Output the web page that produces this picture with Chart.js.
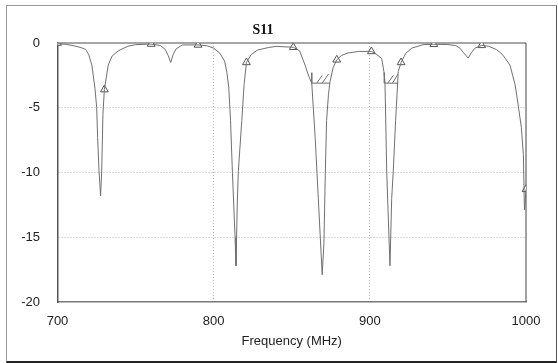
<!DOCTYPE html>
<html lang="en">
<head>
    <meta charset="UTF-8">
    <title>S11</title>
    <script src="https://cdn.jsdelivr.net/npm/chart.js"></script>
    <style>
        html, body { margin: 0; padding: 0; background: #fff; }
        #wrap { position: relative; width: 558px; height: 363px; }
        #frame {
            position: absolute; left: 6px; top: 5px; width: 549px; height: 355px;
            border-top: 1px solid #999; border-left: 1px solid #999;
            border-right: 1px solid #555; border-bottom: 2px solid #222;
            pointer-events: none;
        }
    </style>
</head>
<body>
<div id="wrap">
    <canvas id="s11Chart" width="558" height="363"></canvas>
    <div id="frame"></div>
</div>
<script>
// measured S11 trace (MHz, dB)
const freq = [700, 705, 710, 715, 718, 720, 722, 724, 725.1, 725.7, 726.6, 727.6, 728.3, 729.1, 730, 732.5, 735, 739, 745, 750,
    760, 766, 769, 771, 772.5, 774, 776, 780, 790, 796, 800, 804, 807, 808.5, 809.7, 810.8, 812, 813.7, 814.3, 815.1, 815.8,
    818, 819.5, 821, 824, 828, 835, 840, 851, 855, 858.5, 861, 862.8, 865, 867, 869.5, 870.6, 871.5, 872.3, 873.5,
    874.5, 876.5, 878.8, 882, 886, 893, 901, 904, 907.6, 909, 909.7, 910.8, 912.9, 914, 915, 916.5, 918.2, 920,
    923, 926.8, 934, 941, 950, 955, 957.7, 960, 963, 965, 967.3, 971.6, 976, 981, 985, 989.7, 993, 995, 997,
    998.3, 999, 1000];
const s11 = [-0.05, -0.1, -0.2, -0.35, -0.5, -0.9, -1.7, -3.5, -5, -7.3, -9.9, -11.8, -9.9, -5.5, -3.6, -1.7, -1.0, -0.6, -0.25, -0.13,
    -0.08, -0.2, -0.5, -1.0, -1.5, -0.9, -0.45, -0.15, -0.15, -0.22, -0.4, -0.8, -1.4, -2.3, -3.5, -6, -10, -15, -17.2, -12.5, -9.9,
    -6, -3.2, -1.5, -0.9, -0.55, -0.35, -0.26, -0.33, -0.6, -1.7, -2.6, -3.1, -7.3, -12, -17.9, -15.5, -10, -6, -4,
    -3.0, -1.9, -1.3, -0.95, -0.77, -0.65, -0.65, -0.85, -1.2, -2.2, -3.0, -9.9, -17.2, -12, -9.9, -6, -2.2, -1.5,
    -0.8, -0.4, -0.13, -0.1, -0.12, -0.2, -0.4, -0.75, -1.16, -0.75, -0.4, -0.18, -0.25, -0.5, -0.9, -1.7, -3.2, -4.8, -6.5,
    -8.6, -12.9, -11.3];

// triangle markers on the trace
const markerFreq = [700, 730, 760, 790, 821, 851, 878.8, 901, 920, 941, 971.6, 1000];
const markerS11 = [0, -3.6, -0.08, -0.15, -1.5, -0.33, -1.3, -0.65, -1.5, -0.1, -0.18, -11.3];

// hatched -3 dB band marks: [x1, y1, x2, y2]
const maskSegs = [
    [862.8, -2.3, 862.8, -3.1], [862.8, -3.1, 874.5, -3.1], [866, -3.1, 869.5, -2.5], [869.5, -3.1, 873.5, -2.4],
    [909.3, -2.3, 909.3, -3.1], [909.3, -3.1, 918.2, -3.1], [911.5, -3.1, 915, -2.5], [914.5, -3.1, 918, -2.4]
];

const traceData = freq.map((f, i) => ({ x: f, y: s11[i] }));
const markerData = markerFreq.map((f, i) => ({ x: f, y: markerS11[i] }));
const maskData = [];
maskSegs.forEach(s => {
    maskData.push({ x: s[0], y: s[1] }, { x: s[2], y: s[3] }, { x: s[2], y: null });
});

const plotFrame = {
    id: 'plotFrame',
    beforeDatasetsDraw(chart) {
        const a = chart.chartArea, ctx = chart.ctx;
        ctx.save();
        ctx.lineWidth = 1.5;
        ctx.strokeStyle = '#888';
        ctx.beginPath();
        ctx.moveTo(a.left, a.top);
        ctx.lineTo(a.right, a.top);
        ctx.stroke();
        ctx.strokeStyle = '#444';
        ctx.lineWidth = 1;
        ctx.beginPath();
        ctx.moveTo(a.right, a.top);
        ctx.lineTo(a.right, a.bottom);
        ctx.stroke();
        ctx.restore();
    }
};

const tickFont = { family: 'Liberation Sans, Arial, sans-serif', size: 13 };

new Chart(document.getElementById('s11Chart'), {
    type: 'line',
    data: {
        datasets: [
            { data: traceData, borderColor: '#707070', borderWidth: 1, pointRadius: 0, tension: 0 },
            { data: maskData, borderColor: '#707070', borderWidth: 1, pointRadius: 0, spanGaps: false },
            {
                data: markerData, showLine: false, pointStyle: 'triangle', pointRadius: 4.5,
                backgroundColor: '#fff', borderColor: '#555', pointBorderWidth: 1
            }
        ]
    },
    options: {
        responsive: false,
        animation: false,
        layout: { padding: { left: 0, right: 32, top: 0, bottom: 0 } },
        plugins: {
            legend: { display: false },
            tooltip: { enabled: false },
            title: {
                display: true,
                text: 'S11',
                color: '#111',
                font: { family: 'Liberation Serif, Times New Roman, serif', size: 14, weight: 'bold' },
                padding: { top: 22, bottom: 4.2 }
            }
        },
        scales: {
            x: {
                type: 'linear', min: 700, max: 1000,
                ticks: { stepSize: 100, color: '#222', font: tickFont, padding: 12, maxRotation: 0, callback: v => String(v) },
                grid: {
                    drawTicks: false,
                    color: c => (c.tick && (c.tick.value === 700 || c.tick.value === 1000)) ? 'rgba(0,0,0,0)' : '#b5b5b5'
                },
                border: { color: '#777', width: 1.5, dash: [1, 2] },
                title: { display: true, text: 'Frequency (MHz)', color: '#222', font: tickFont, padding: { top: 0, bottom: 14 } },
                afterFit: s => { s.height = 61; }
            },
            y: {
                min: -20, max: 0,
                ticks: { stepSize: 5, color: '#222', font: tickFont, padding: 17.5 },
                grid: {
                    drawTicks: false,
                    color: c => (c.tick && (c.tick.value === 0 || c.tick.value === -20)) ? 'rgba(0,0,0,0)' : '#b5b5b5'
                },
                border: { color: '#555', width: 1.5, dash: [1, 2] },
                afterFit: s => { s.width = 57.5; }
            }
        }
    },
    plugins: [plotFrame]
});
</script>
</body>
</html>
